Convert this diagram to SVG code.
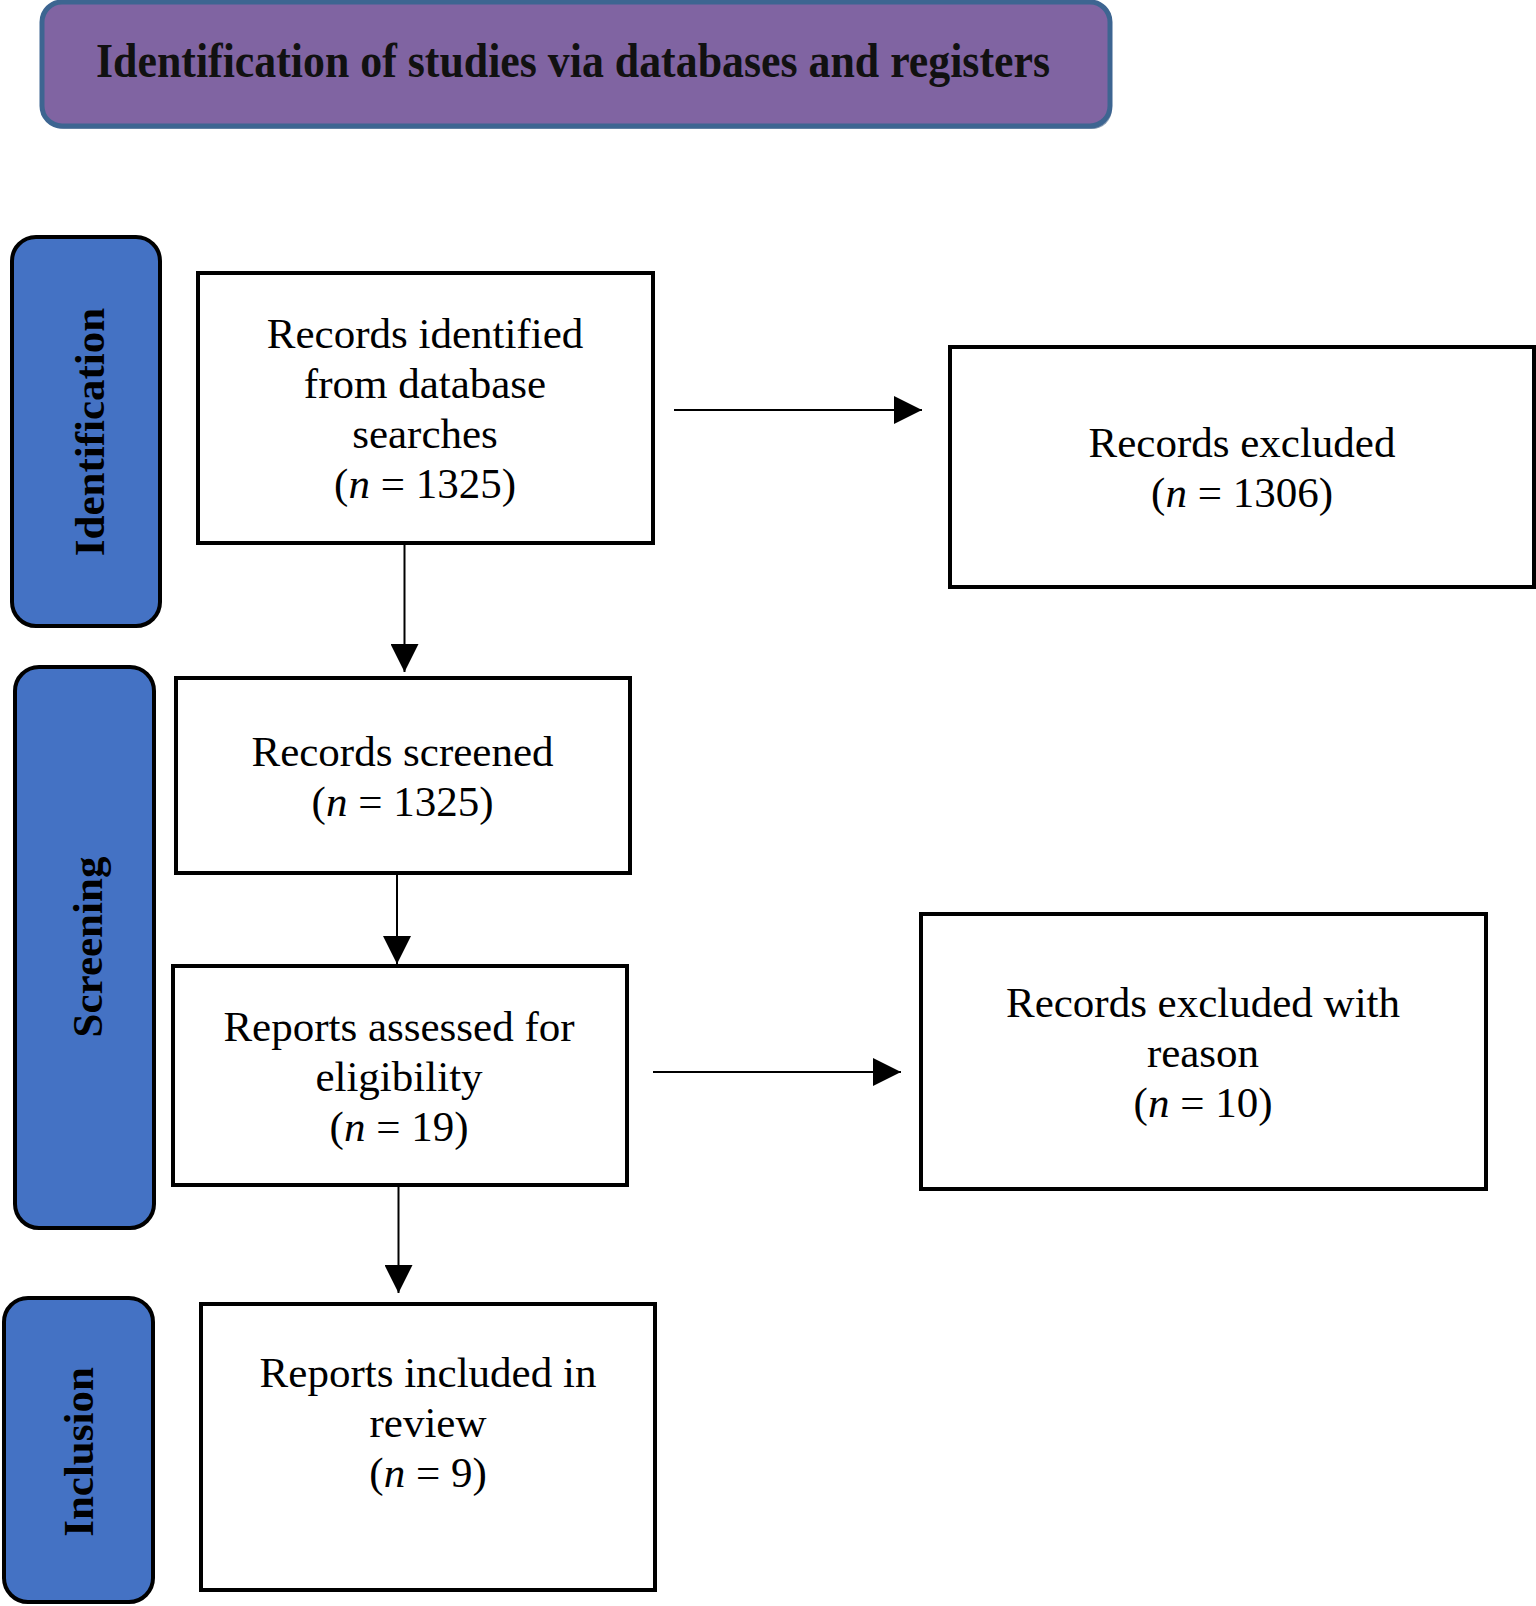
<svg xmlns="http://www.w3.org/2000/svg" width="1536" height="1606" viewBox="0 0 1536 1606">
<style>
.box{fill:#fff;stroke:#000;stroke-width:4}
.side{fill:#4472c4;stroke:#000;stroke-width:4}
.t{font-family:"Liberation Serif","Times New Roman",serif;font-size:43px;fill:#000;text-anchor:middle}
.s{font-family:"Liberation Serif","Times New Roman",serif;font-size:43px;font-weight:bold;fill:#000;text-anchor:middle}
.i{font-style:italic}
.c{stroke:#000;stroke-width:2;fill:none}
</style>
<defs>
<marker id="ah" viewBox="0 0 28 28" refX="28" refY="14" markerWidth="28" markerHeight="28" markerUnits="userSpaceOnUse" orient="auto">
<path d="M0,0 L28,14 L0,28 Z" fill="#000"/>
</marker>
</defs>
<g id="header">
<rect x="44" y="5" width="1068" height="124" rx="20" fill="#3a5a80" opacity="0.6"/>
<rect x="42" y="2" width="1068" height="124" rx="20" fill="#8064a2" stroke="#3d6591" stroke-width="5"/>
<text x="573" y="77" font-family="Liberation Serif, serif" font-weight="bold" font-size="48" fill="#111" text-anchor="middle" textLength="954" lengthAdjust="spacingAndGlyphs">Identification of studies via databases and registers</text>
</g>
<g id="side-identification">
<rect class="side" x="12" y="237" width="148" height="389" rx="24"/>
<text class="s" transform="translate(104,432) rotate(-90)">Identification</text>
</g>
<g id="side-screening">
<rect class="side" x="15" y="667" width="139" height="561" rx="24"/>
<text class="s" transform="translate(102,947) rotate(-90)">Screening</text>
</g>
<g id="side-inclusion">
<rect class="side" x="4" y="1298" width="149" height="304" rx="24"/>
<text class="s" transform="translate(93,1452) rotate(-90)">Inclusion</text>
</g>
<g id="connectors">
<line class="c" x1="674" y1="410" x2="922" y2="410" marker-end="url(#ah)"/>
<line class="c" x1="404.5" y1="543" x2="404.5" y2="672" marker-end="url(#ah)"/>
<line class="c" x1="397" y1="873" x2="397" y2="964" marker-end="url(#ah)"/>
<line class="c" x1="653" y1="1072" x2="901" y2="1072" marker-end="url(#ah)"/>
<line class="c" x1="398.5" y1="1185" x2="398.5" y2="1293" marker-end="url(#ah)"/>
</g>
<g id="records-identified">
<rect class="box" x="198" y="273" width="455" height="270"/>
<text class="t" x="425" y="348">Records identified</text>
<text class="t" x="425" y="398">from database</text>
<text class="t" x="425" y="448">searches</text>
<text class="t" x="425" y="498">(<tspan class="i">n</tspan> = 1325)</text>
</g>
<g id="records-excluded">
<rect class="box" x="950" y="347" width="584" height="240"/>
<text class="t" x="1242" y="457">Records excluded</text>
<text class="t" x="1242" y="507">(<tspan class="i">n</tspan> = 1306)</text>
</g>
<g id="records-screened">
<rect class="box" x="176" y="678" width="454" height="195"/>
<text class="t" x="402.5" y="766">Records screened</text>
<text class="t" x="402.5" y="816">(<tspan class="i">n</tspan> = 1325)</text>
</g>
<g id="reports-assessed">
<rect class="box" x="173" y="966" width="454" height="219"/>
<text class="t" x="399" y="1041">Reports assessed for</text>
<text class="t" x="399" y="1091">eligibility</text>
<text class="t" x="399" y="1141">(<tspan class="i">n</tspan> = 19)</text>
</g>
<g id="records-excluded-reason">
<rect class="box" x="921" y="914" width="565" height="275"/>
<text class="t" x="1203" y="1017">Records excluded with</text>
<text class="t" x="1203" y="1067">reason</text>
<text class="t" x="1203" y="1117">(<tspan class="i">n</tspan> = 10)</text>
</g>
<g id="reports-included">
<rect class="box" x="201" y="1304" width="454" height="286"/>
<text class="t" x="428" y="1387">Reports included in</text>
<text class="t" x="428" y="1437">review</text>
<text class="t" x="428" y="1487">(<tspan class="i">n</tspan> = 9)</text>
</g>
</svg>
